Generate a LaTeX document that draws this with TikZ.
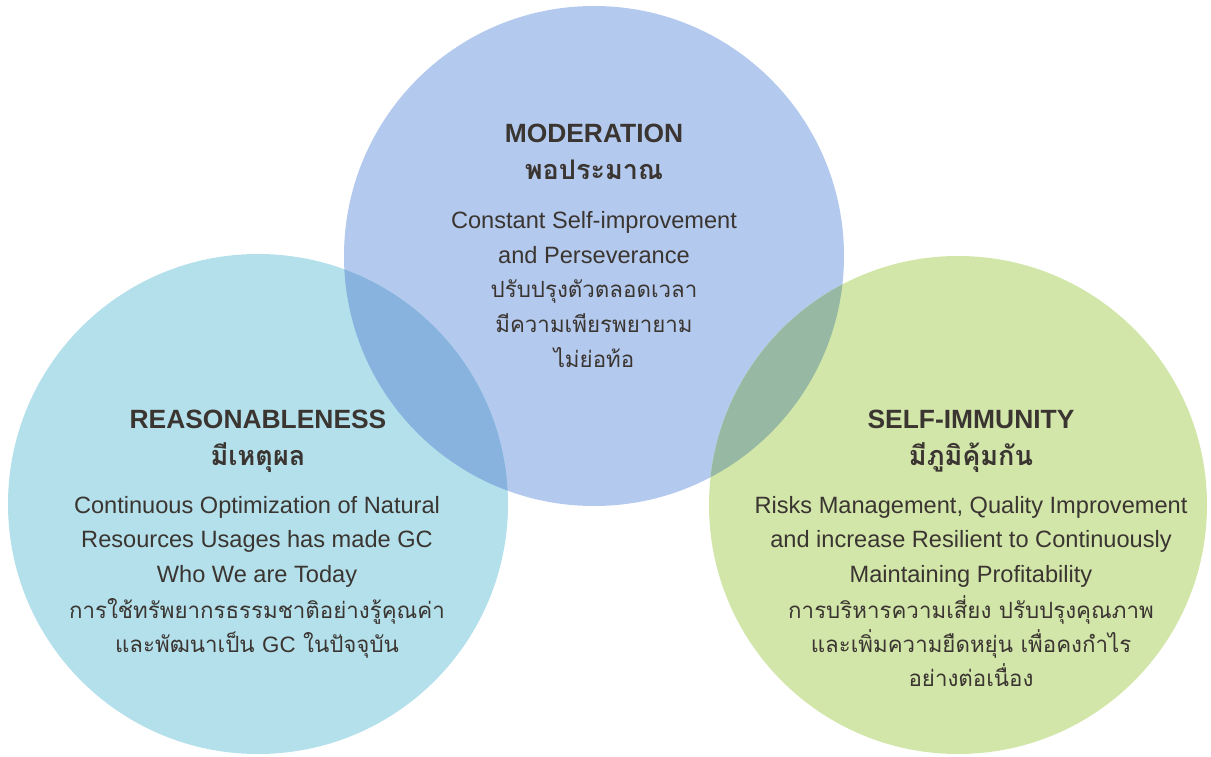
\documentclass[tikz,border=0pt]{standalone}
\usepackage{fontspec}
\setmainfont{Liberation Sans}
\newfontfamily\thaifont[Script=Thai]{Loma}
\definecolor{ctop}{HTML}{B4C9EE}
\definecolor{cleft}{HTML}{B4E0EB}
\definecolor{cright}{HTML}{D3E6AA}
\definecolor{ctl}{HTML}{88B3DF}
\definecolor{ctr}{HTML}{97B9A3}
\definecolor{ink}{HTML}{3A3531}
\tikzset{
  ttl/.style={anchor=base, text=ink, font=\fontsize{26.4}{30}\selectfont\bfseries, inner sep=0pt},
  tth/.style={anchor=base, text=ink, font=\fontsize{27}{30}\selectfont\thaifont\bfseries, inner sep=0pt},
  bod/.style={anchor=base, text=ink, font=\fontsize{23.6}{30}\selectfont, inner sep=0pt},
  bth/.style={anchor=base, text=ink, font=\fontsize{22.3}{30}\selectfont\thaifont, inner sep=0pt},
}
\begin{document}
\begin{tikzpicture}[x=1pt,y=-1pt]
\useasboundingbox (0,0) rectangle (1211,757);
% circles
\fill[ctop] (594,256) circle (250);
\fill[cleft] (258,504) circle (250);
\fill[cright] (958,505) circle (249);
\begin{scope}
  \clip (594,256) circle (250);
  \fill[ctl] (258,504) circle (250);
  \fill[ctr] (958,505) circle (249);
\end{scope}
% top block
\node[ttl] (t1) at (594,143) {MODERATION};
\node[tth] (t2) at (594,180) {พอประมาณ};
\node[bod] (t3) at (594,229) {Constant Self-improvement};
\node[bod] (t4) at (594,263) {and Perseverance};
\node[bth] (t5) at (594,297) {ปรับปรุงตัวตลอดเวลา};
\node[bth] (t6) at (594,332) {มีความเพียรพยายาม};
\node[bth] (t7) at (594,367) {ไม่ย่อท้อ};
% left block
\node[ttl] (l1) at (258,428) {REASONABLENESS};
\node[tth] (l2) at (258,465) {มีเหตุผล};
\node[bod] (l3) at (257,513) {Continuous Optimization of Natural};
\node[bod] (l4) at (257,547) {Resources Usages has made GC};
\node[bod] (l5) at (257,582) {Who We are Today};
\node[bth] (l6) at (257,618) {การใช้ทรัพยากรธรรมชาติอย่างรู้คุณค่า};
\node[bth] (l7) at (257,652) {และพัฒนาเป็น {\fontspec{Liberation Sans}GC} ในปัจจุบัน};
% right block
\node[ttl] (r1) at (971,428) {SELF-IMMUNITY};
\node[tth] (r2) at (971,465) {มีภูมิคุ้มกัน};
\node[bod] (r3) at (971,513) {Risks Management, Quality Improvement};
\node[bod] (r4) at (971,547) {and increase Resilient to Continuously};
\node[bod] (r5) at (971,582) {Maintaining Profitability};
\node[bth] (r6) at (971,618) {การบริหารความเสี่ยง ปรับปรุงคุณภาพ};
\node[bth] (r7) at (971,652) {และเพิ่มความยืดหยุ่น เพื่อคงกำไร};
\node[bth] (r8) at (971,686) {อย่างต่อเนื่อง};
\end{tikzpicture}
\end{document}
